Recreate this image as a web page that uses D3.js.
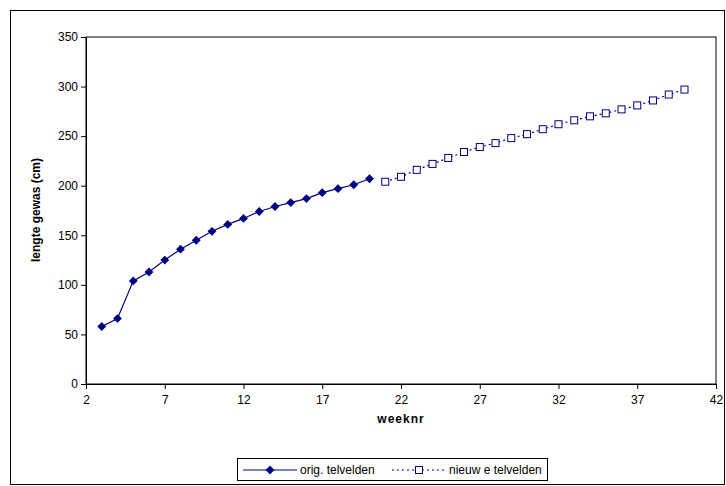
<!DOCTYPE html>
<html><head><meta charset="utf-8">
<script src="https://cdn.jsdelivr.net/npm/d3@7"></script>
<style>body{margin:0;background:#fff}text{font-family:Arial,"Liberation Sans",sans-serif}</style>
</head><body>
<script>
var origWeeks = d3.range(3, 21);
var origValues = [58, 66, 104, 113, 125, 136, 145, 154, 161, 167, 174, 179, 183, 187, 193, 197, 201, 207];
var newWeeks = d3.range(21, 41);
var newValues = [204, 209, 216, 222, 228, 234, 239, 243, 248, 252, 257, 262, 266, 270, 273, 277, 281, 286, 292, 297];
var xTicks = [2, 7, 12, 17, 22, 27, 32, 37, 42];
var yTicks = [0, 50, 100, 150, 200, 250, 300, 350];
var color = '#000080';

var svg = d3.select('body').append('svg').attr('width', 726).attr('height', 486);
svg.append('rect').attr('x', 10.5).attr('y', 10.5).attr('width', 714).attr('height', 474)
  .attr('fill', '#fff').attr('stroke', '#000');

var x = d3.scaleLinear().domain([2, 42]).range([86, 716]);
var y = d3.scaleLinear().domain([0, 350]).range([384, 37]);

svg.append('rect').attr('x', 86).attr('y', 37).attr('width', 630).attr('height', 347)
  .attr('fill', 'none').attr('stroke', '#000');

var xAxis = svg.append('g').attr('transform', 'translate(0,384)')
  .call(d3.axisBottom(x).tickValues(xTicks).tickSize(5).tickSizeOuter(0));
var yAxis = svg.append('g').attr('transform', 'translate(86,0)')
  .call(d3.axisLeft(y).tickValues(yTicks).tickSize(5).tickSizeOuter(0));
[xAxis, yAxis].forEach(function(a) {
  a.selectAll('text').attr('font-size', 12).attr('fill', '#000').style('font-family', 'Arial');
  a.select('.domain').attr('stroke', '#000');
});
xAxis.selectAll('text').attr('dy', '1em');

svg.append('text').attr('x', 401).attr('y', 423).attr('text-anchor', 'middle')
  .attr('font-size', 12).attr('font-weight', 'bold').attr('letter-spacing', 1).text('weeknr');
svg.append('text').attr('transform', 'translate(40,210) rotate(-90)').attr('text-anchor', 'middle')
  .attr('font-size', 12).attr('font-weight', 'bold').text('lengte gewas (cm)');

var orig = origWeeks.map(function(w, i) { return [w, origValues[i]]; });
var nieuw = newWeeks.map(function(w, i) { return [w, newValues[i]]; });
var line = d3.line().x(function(d) { return x(d[0]); }).y(function(d) { return y(d[1]); });

svg.append('path').datum(orig).attr('d', line).attr('fill', 'none').attr('stroke', color).attr('stroke-width', 1.2);
svg.append('path').datum(nieuw).attr('d', line).attr('fill', 'none').attr('stroke', color)
  .attr('stroke-width', 1.2).attr('stroke-dasharray', '2,3');

var diamond = d3.symbol().type(d3.symbolDiamond2).size(50);
svg.selectAll('.dia').data(orig).enter().append('path')
  .attr('transform', function(d) { return 'translate(' + x(d[0]) + ',' + y(d[1]) + ')'; })
  .attr('d', diamond).attr('fill', color);
svg.selectAll('.sq').data(nieuw).enter().append('rect')
  .attr('x', function(d) { return x(d[0]) - 3.5; }).attr('y', function(d) { return y(d[1]) - 3.5; })
  .attr('width', 7).attr('height', 7).attr('fill', '#fff').attr('stroke', color);

// legend
var lg = svg.append('g');
lg.append('rect').attr('x', 237.5).attr('y', 458.5).attr('width', 310).attr('height', 22)
  .attr('fill', '#fff').attr('stroke', '#000');
lg.append('line').attr('x1', 243).attr('x2', 297).attr('y1', 470).attr('y2', 470).attr('stroke', color).attr('stroke-width', 1.2);
lg.append('path').attr('transform', 'translate(270,470)').attr('d', diamond).attr('fill', color);
lg.append('text').attr('x', 300).attr('y', 474).attr('font-size', 12).text('orig. telvelden');
lg.append('line').attr('x1', 392).attr('x2', 446).attr('y1', 470).attr('y2', 470).attr('stroke', color)
  .attr('stroke-width', 1.2).attr('stroke-dasharray', '2,3');
lg.append('rect').attr('x', 415.5).attr('y', 466.5).attr('width', 7).attr('height', 7).attr('fill', '#fff').attr('stroke', color);
lg.append('text').attr('x', 449).attr('y', 474).attr('font-size', 12).text('nieuw e telvelden');
</script>
</body></html>
